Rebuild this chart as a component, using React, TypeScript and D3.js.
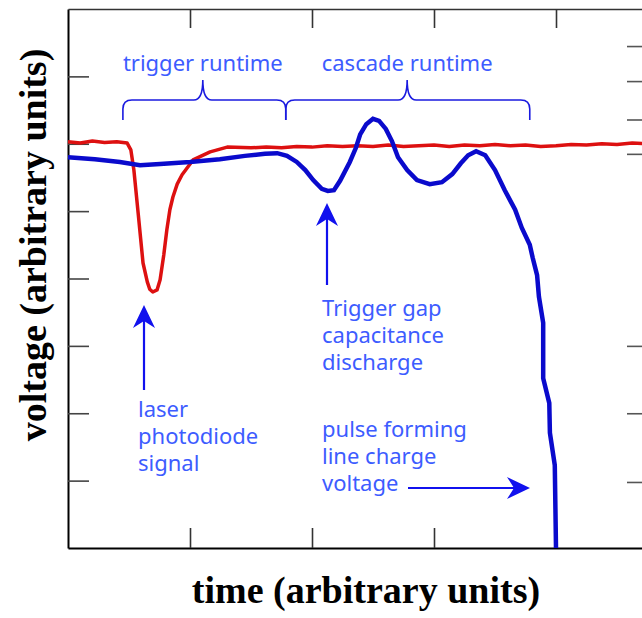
import React, { useEffect, useRef } from 'react';
import * as d3 from 'd3';

// time in scope divisions (0..10), voltage in divisions (0..8)
const redTime = [0, 0.2, 0.4, 0.6, 0.8, 0.97, 1.03, 1.08, 1.15, 1.23, 1.3, 1.34, 1.39, 1.46, 1.51, 1.57, 1.62, 1.67, 1.72, 1.79, 1.87, 2.05, 2.33, 2.61, 3.0, 3.25, 3.5, 3.75, 4.0, 4.25, 4.5, 4.75, 5.0, 5.25, 5.5, 5.75, 6.0, 6.25, 6.5, 6.75, 7.0, 7.25, 7.5, 7.75, 8.0, 8.25, 8.5, 8.75, 9.0, 9.25, 9.5];
const redVolt = [6.03, 6.01, 6.04, 6.02, 6.03, 6.01, 5.91, 5.61, 4.97, 4.23, 3.95, 3.84, 3.8, 3.83, 3.98, 4.35, 4.72, 5.02, 5.21, 5.4, 5.54, 5.76, 5.88, 5.95, 5.94, 5.95, 5.94, 5.96, 5.95, 5.97, 5.96, 5.97, 5.96, 5.98, 5.96, 5.97, 5.98, 5.96, 5.98, 5.97, 5.99, 5.97, 5.98, 5.96, 5.97, 5.99, 5.98, 6.0, 5.99, 6.01, 6.0];

const blueTime = [0, 0.44, 0.85, 1.18, 1.51, 2.0, 2.49, 2.9, 3.23, 3.43, 3.59, 3.75, 3.89, 4.02, 4.16, 4.26, 4.36, 4.46, 4.62, 4.72, 4.79, 4.89, 5.0, 5.1, 5.21, 5.31, 5.41, 5.56, 5.72, 5.93, 6.13, 6.3, 6.44, 6.56, 6.69, 6.84, 7.0, 7.16, 7.33, 7.44, 7.57, 7.62, 7.69, 7.72, 7.79, 7.79, 7.89, 7.9, 7.98, 8.0];
const blueVolt = [5.8, 5.77, 5.73, 5.68, 5.7, 5.73, 5.77, 5.82, 5.85, 5.86, 5.82, 5.73, 5.61, 5.46, 5.33, 5.3, 5.31, 5.45, 5.73, 5.94, 6.14, 6.29, 6.37, 6.34, 6.22, 6.04, 5.8, 5.61, 5.46, 5.4, 5.43, 5.55, 5.71, 5.83, 5.89, 5.83, 5.61, 5.31, 5.02, 4.75, 4.5, 4.3, 4.05, 3.73, 3.34, 2.52, 2.15, 1.71, 1.23, 0];

const xTicks = [2, 4, 6, 8];
const leftTicks = [1, 2, 3, 4, 5, 6, 7];
const rightTicks = [0.98, 2.0, 3.0, 5.85, 6.36, 6.93, 7.45];

// brace ends / centres in time units
const braceEnds = [[0.9, 2.21, 3.57], [3.57, 5.56, 7.57]];
const braceLabels = ['trigger runtime', 'cascade runtime'];

const W = 642, H = 618;
const left = 68, top = 9, bottom = 548, right = 678;
const textBlue = '#3d5cff';
const arrowBlue = '#1111ee';
const sans = '"Noto Sans", sans-serif';

const App = () => {
  const ref = useRef<SVGSVGElement>(null);

  useEffect(() => {
    const svg = d3.select(ref.current);
    svg.selectAll('*').remove();

    const x = d3.scaleLinear().domain([0, 10]).range([left, right]);
    const y = d3.scaleLinear().domain([0, 8]).range([bottom, top]);

    svg.append('rect').attr('width', W).attr('height', H).attr('fill', '#fff');

    // frame + ticks
    const tick = (g, col) => g.selectAll('.tick line').attr('stroke', col).attr('stroke-width', 1.6);
    svg.append('g').attr('transform', `translate(${left},0)`)
      .call(d3.axisRight(y).tickValues(leftTicks).tickSize(21).tickSizeOuter(0).tickFormat(() => ''))
      .call(g => g.select('.domain').attr('stroke', '#000').attr('stroke-width', 2))
      .call(g => tick(g, '#444'));
    svg.append('g').attr('transform', `translate(0,${bottom})`)
      .call(d3.axisTop(x).tickValues(xTicks).tickSize(20).tickSizeOuter(0).tickFormat(() => ''))
      .call(g => g.select('.domain').attr('stroke', '#000').attr('stroke-width', 2))
      .call(g => tick(g, '#333'));
    svg.append('g').attr('transform', `translate(0,${top})`)
      .call(d3.axisBottom(x).tickValues(xTicks).tickSize(19).tickSizeOuter(0).tickFormat(() => ''))
      .call(g => g.select('.domain').attr('stroke', '#333').attr('stroke-width', 1.6))
      .call(g => tick(g, '#333'));
    svg.append('g').attr('transform', `translate(650,0)`)
      .call(d3.axisLeft(y).tickValues(rightTicks).tickSize(23).tickSizeOuter(0).tickFormat(() => ''))
      .call(g => g.select('.domain').attr('stroke', '#333'))
      .call(g => tick(g, '#555'));

    // traces
    const line = d3.line<[number, number]>().x(d => x(d[0])).y(d => y(d[1]));
    svg.append('path')
      .datum(redTime.map((t, i) => [t, redVolt[i]] as [number, number]))
      .attr('d', line).attr('fill', 'none').attr('stroke', '#dd1010')
      .attr('stroke-width', 3.5).attr('stroke-linejoin', 'round');
    svg.append('path')
      .datum(blueTime.map((t, i) => [t, blueVolt[i]] as [number, number]))
      .attr('d', line).attr('fill', 'none').attr('stroke', '#0a0acc')
      .attr('stroke-width', 4.5).attr('stroke-linejoin', 'miter');

    // braces
    const yLeg = 120, yBar = 100, yTip = 80, r = 9;
    braceEnds.forEach(([a, m, b]) => {
      const x1 = x(a), xm = x(m), x2 = x(b);
      const p = d3.path();
      p.moveTo(x1, yLeg);
      p.lineTo(x1, yBar + r);
      p.quadraticCurveTo(x1, yBar, x1 + r, yBar);
      p.lineTo(xm - r, yBar);
      p.quadraticCurveTo(xm, yBar, xm, yTip);
      p.quadraticCurveTo(xm, yBar, xm + r, yBar);
      p.lineTo(x2 - r, yBar);
      p.quadraticCurveTo(x2, yBar, x2, yBar + r);
      p.lineTo(x2, yLeg);
      svg.append('path').attr('d', p.toString()).attr('fill', 'none')
        .attr('stroke', '#1a1ae0').attr('stroke-width', 1.6);
    });
    svg.selectAll('.brace-label').data(braceLabels).join('text')
      .attr('x', (d, i) => x(braceEnds[i][1])).attr('y', 71)
      .attr('text-anchor', 'middle').attr('fill', textBlue)
      .style('font-family', sans).style('font-size', '22px')
      .text(d => d);

    // arrows
    const arrow = (x1, y1, x2, y2) => {
      const ang = Math.atan2(y2 - y1, x2 - x1);
      const len = 23, half = 11, notch = 7;
      const bx = x2 - len * Math.cos(ang), by = y2 - len * Math.sin(ang);
      const nx = -Math.sin(ang), ny = Math.cos(ang);
      const ix = x2 - (len - notch) * Math.cos(ang), iy = y2 - (len - notch) * Math.sin(ang);
      svg.append('line').attr('x1', x1).attr('y1', y1).attr('x2', ix).attr('y2', iy)
        .attr('stroke', arrowBlue).attr('stroke-width', 2.2);
      svg.append('path')
        .attr('d', `M${x2},${y2}L${bx + nx * half},${by + ny * half}L${ix},${iy}L${bx - nx * half},${by - ny * half}Z`)
        .attr('fill', arrowBlue);
    };
    arrow(144, 390, 144, 305);
    arrow(327, 285, 327, 203);
    arrow(408, 488, 530, 488);

    const block = (lines, x0, y0) => {
      const t = svg.append('text').attr('fill', textBlue)
        .style('font-family', sans).style('font-size', '22px');
      lines.forEach((s, i) => t.append('tspan').attr('x', x0).attr('y', y0 + i * 27).text(s));
    };
    block(['Trigger gap', 'capacitance', 'discharge'], 322, 316);
    block(['laser', 'photodiode', 'signal'], 138, 417);
    block(['pulse forming', 'line charge', 'voltage'], 322, 437);

    // axis titles
    svg.append('text').attr('x', 366).attr('y', 603).attr('text-anchor', 'middle')
      .style('font-family', '"Liberation Serif", serif').style('font-weight', 'bold').style('font-size', '38px')
      .text('time (arbitrary units)');
    svg.append('text').attr('transform', 'translate(46,245) rotate(-90)').attr('text-anchor', 'middle')
      .style('font-family', '"Liberation Serif", serif').style('font-weight', 'bold').style('font-size', '38px')
      .text('voltage (arbitrary units)');
  }, []);

  return <svg ref={ref} width={W} height={H} style={{ position: 'absolute', left: 0, top: 0 }} />;
};

export default App;
